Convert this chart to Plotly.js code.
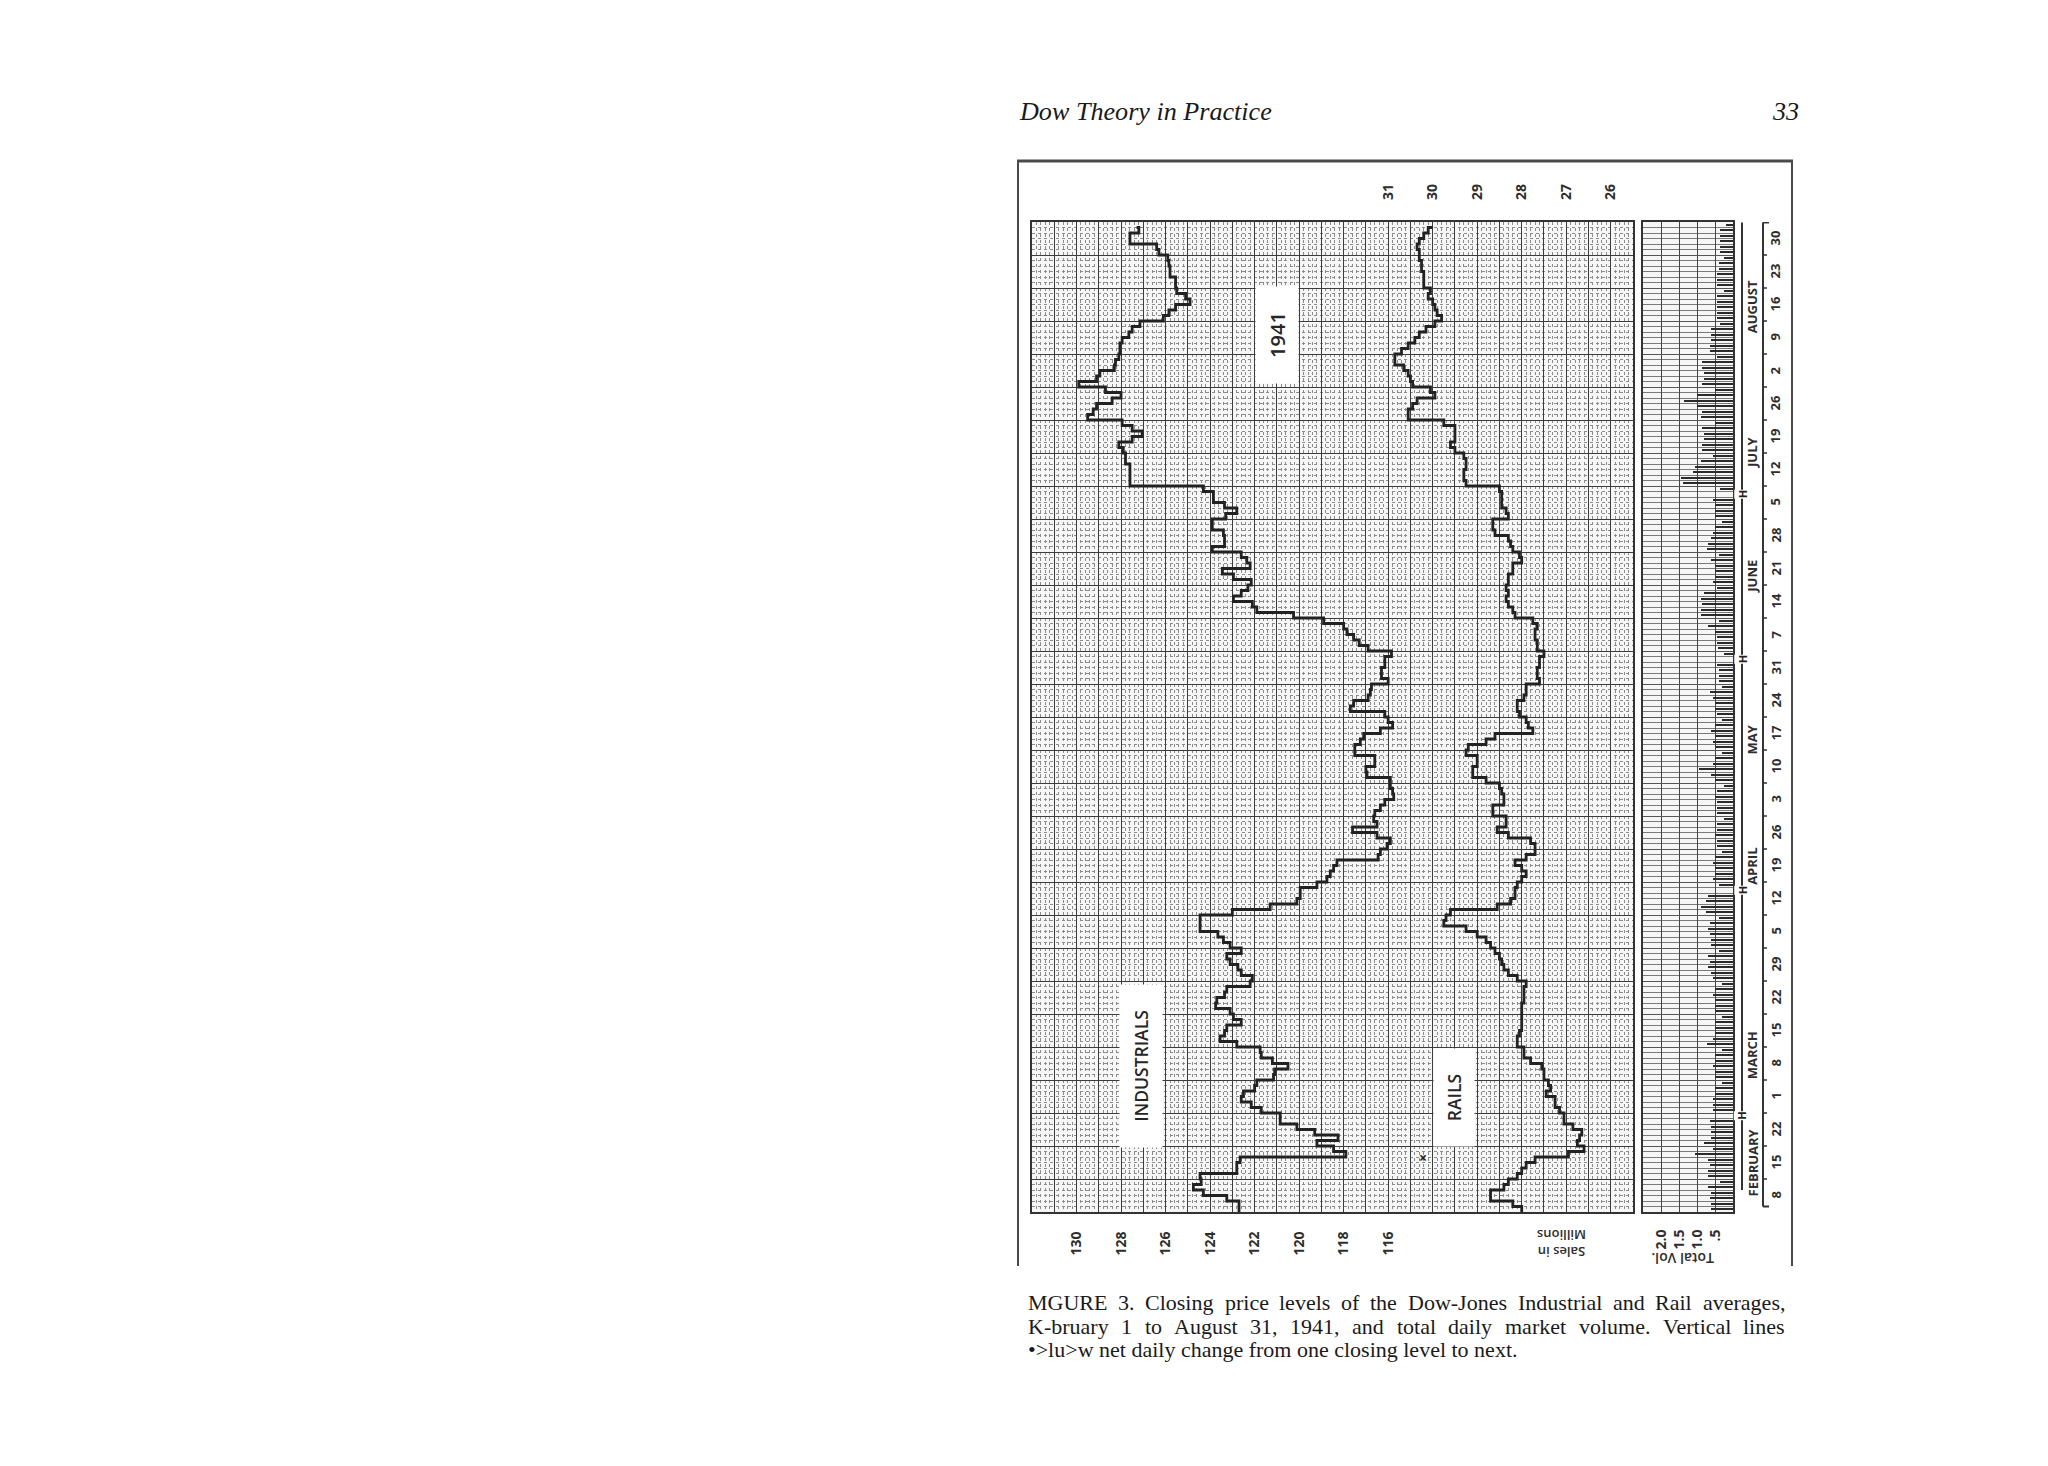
<!DOCTYPE html>
<html><head><meta charset="utf-8">
<script src="https://cdn.plot.ly/plotly-3.0.1.min.js"></script>
<style>html,body{margin:0;padding:0;background:#fff;}#chart{width:2048px;height:1466px;}</style>
</head><body><div id="chart"></div>
<script>
// ---------------- DATA ----------------
const indDates = ['1941-02-01','1941-02-05','1941-02-06','1941-02-07','1941-02-08','1941-02-10','1941-02-11','1941-02-13','1941-02-14','1941-02-15','1941-02-17','1941-02-18','1941-02-19','1941-02-20','1941-02-21','1941-02-24','1941-02-25','1941-02-26','1941-02-27','1941-02-28','1941-03-01','1941-03-03','1941-03-04','1941-03-05','1941-03-06','1941-03-07','1941-03-08','1941-03-10','1941-03-11','1941-03-12','1941-03-13','1941-03-14','1941-03-15','1941-03-17','1941-03-18','1941-03-19','1941-03-20','1941-03-21','1941-03-22','1941-03-24','1941-03-25','1941-03-26','1941-03-27','1941-03-28','1941-03-29','1941-03-31','1941-04-01','1941-04-02','1941-04-03','1941-04-07','1941-04-08','1941-04-09','1941-04-10','1941-04-12','1941-04-14','1941-04-15','1941-04-16','1941-04-17','1941-04-18','1941-04-19','1941-04-21','1941-04-22','1941-04-23','1941-04-24','1941-04-25','1941-04-26','1941-04-28','1941-04-29','1941-04-30','1941-05-01','1941-05-02','1941-05-03','1941-05-06','1941-05-07','1941-05-08','1941-05-10','1941-05-13','1941-05-14','1941-05-15','1941-05-16','1941-05-17','1941-05-19','1941-05-20','1941-05-21','1941-05-22','1941-05-23','1941-05-24','1941-05-26','1941-05-27','1941-05-29','1941-05-31','1941-06-02','1941-06-03','1941-06-04','1941-06-05','1941-06-06','1941-06-07','1941-06-09','1941-06-10','1941-06-11','1941-06-12','1941-06-13','1941-06-14','1941-06-16','1941-06-17','1941-06-18','1941-06-19','1941-06-20','1941-06-21','1941-06-23','1941-06-24','1941-06-26','1941-06-27','1941-06-30','1941-07-01','1941-07-02','1941-07-03','1941-07-05','1941-07-07','1941-07-11','1941-07-14','1941-07-15','1941-07-16','1941-07-17','1941-07-18','1941-07-19','1941-07-21','1941-07-22','1941-07-23','1941-07-24','1941-07-25','1941-07-26','1941-07-28','1941-07-29','1941-07-30','1941-07-31','1941-08-01','1941-08-02','1941-08-04','1941-08-06','1941-08-07','1941-08-08','1941-08-09','1941-08-11','1941-08-12','1941-08-13','1941-08-14','1941-08-15','1941-08-16','1941-08-18','1941-08-20','1941-08-22','1941-08-23','1941-08-25','1941-08-26','1941-08-27','1941-08-29','1941-08-30'];
const indValues = [122.7,123.25,124.3,124.75,124.4,124.45,122.8,122.65,117.9,118.45,119.2,118.25,119.3,120.1,120.85,121.7,122.15,122.6,122.5,122.0,121.9,121.15,121.1,120.5,121.2,121.7,121.75,122.8,123.55,123.35,123.25,122.6,122.95,123.1,123.75,123.7,123.35,123.25,122.2,122.1,122.6,122.75,123.1,123.25,122.6,123.1,123.4,123.65,124.45,123.0,121.3,120.1,119.95,119.2,118.75,118.6,118.45,118.3,116.45,116.35,116.05,115.9,116.5,117.6,116.5,116.65,116.6,116.35,116.15,115.75,115.8,115.9,116.95,117.0,116.6,117.5,117.25,117.1,116.35,115.8,116.0,116.15,117.7,117.55,116.9,116.8,116.75,116.0,116.3,116.15,115.85,116.9,117.3,117.55,117.85,118.0,118.9,120.25,121.9,122.1,122.95,122.6,122.3,122.15,122.95,123.45,122.2,122.35,122.6,123.9,123.35,123.4,123.9,123.3,122.8,123.35,123.85,124.3,127.6,127.8,127.9,128.1,127.5,127.05,127.5,127.95,129.5,129.25,129.1,128.4,128.0,128.7,129.9,129.1,128.95,128.3,128.25,128.1,128.05,127.95,127.65,127.5,127.15,126.1,125.85,125.55,124.9,125.1,125.5,125.55,125.8,125.85,125.9,126.3,126.4,127.6,127.2,127.3];

const railDates = ['1941-02-01','1941-02-04','1941-02-05','1941-02-07','1941-02-08','1941-02-10','1941-02-11','1941-02-12','1941-02-13','1941-02-14','1941-02-15','1941-02-17','1941-02-18','1941-02-19','1941-02-20','1941-02-21','1941-02-24','1941-02-25','1941-02-27','1941-02-28','1941-03-01','1941-03-03','1941-03-05','1941-03-06','1941-03-07','1941-03-10','1941-03-12','1941-03-13','1941-03-19','1941-03-22','1941-03-24','1941-03-25','1941-03-26','1941-03-27','1941-03-28','1941-03-29','1941-03-31','1941-04-01','1941-04-02','1941-04-03','1941-04-04','1941-04-05','1941-04-07','1941-04-08','1941-04-09','1941-04-10','1941-04-12','1941-04-14','1941-04-15','1941-04-16','1941-04-17','1941-04-18','1941-04-19','1941-04-22','1941-04-23','1941-04-24','1941-04-25','1941-04-28','1941-04-30','1941-05-02','1941-05-03','1941-05-05','1941-05-06','1941-05-08','1941-05-10','1941-05-12','1941-05-13','1941-05-14','1941-05-15','1941-05-16','1941-05-17','1941-05-19','1941-05-20','1941-05-22','1941-05-23','1941-05-26','1941-05-27','1941-05-29','1941-05-31','1941-06-02','1941-06-04','1941-06-06','1941-06-07','1941-06-09','1941-06-10','1941-06-11','1941-06-12','1941-06-13','1941-06-14','1941-06-16','1941-06-18','1941-06-20','1941-06-21','1941-06-23','1941-06-24','1941-06-25','1941-06-26','1941-06-27','1941-06-30','1941-07-01','1941-07-02','1941-07-05','1941-07-07','1941-07-08','1941-07-10','1941-07-12','1941-07-14','1941-07-15','1941-07-16','1941-07-19','1941-07-21','1941-07-23','1941-07-24','1941-07-25','1941-07-26','1941-07-28','1941-07-29','1941-07-30','1941-07-31','1941-08-01','1941-08-04','1941-08-05','1941-08-06','1941-08-07','1941-08-08','1941-08-09','1941-08-11','1941-08-12','1941-08-13','1941-08-14','1941-08-15','1941-08-16','1941-08-18','1941-08-21','1941-08-23','1941-08-26','1941-08-27','1941-08-28','1941-08-29','1941-08-30'];
const railValues = [28.0,28.2,28.7,28.4,28.3,28.1,28.0,27.9,27.7,26.95,26.6,26.75,26.7,26.65,26.85,27.05,27.15,27.25,27.45,27.35,27.4,27.5,27.55,27.8,27.95,28.1,28.05,28.0,27.95,27.9,28.1,28.3,28.4,28.45,28.5,28.6,28.7,28.8,29.0,29.25,29.75,29.7,29.6,28.55,28.25,28.15,28.1,28.0,27.9,28.0,28.15,27.9,27.7,27.8,28.3,28.55,28.35,28.65,28.4,28.45,28.5,28.8,29.1,29.0,29.25,29.2,28.8,28.6,27.75,27.85,27.9,28.05,28.1,27.95,27.9,27.6,27.65,27.6,27.5,27.65,27.7,27.65,27.75,28.15,28.2,28.3,28.35,28.3,28.35,28.3,28.2,28.0,28.05,28.2,28.25,28.3,28.6,28.65,28.3,28.35,28.45,28.5,29.25,29.3,29.25,29.3,29.5,29.6,29.5,29.75,30.55,30.45,30.35,29.95,30.05,30.45,30.5,30.55,30.65,30.85,30.7,30.55,30.4,30.3,30.15,29.95,29.8,29.9,29.95,30.0,30.1,30.05,30.2,30.25,30.3,30.35,30.3,30.2,30.1,30.0];

const volDates = ['1941-02-01',
'1941-02-03','1941-02-04','1941-02-05','1941-02-06','1941-02-07','1941-02-08',
'1941-02-10','1941-02-11','1941-02-12','1941-02-13','1941-02-14','1941-02-15',
'1941-02-17','1941-02-18','1941-02-19','1941-02-20','1941-02-21',
'1941-02-24','1941-02-25','1941-02-26','1941-02-27','1941-02-28','1941-03-01',
'1941-03-03','1941-03-04','1941-03-05','1941-03-06','1941-03-07','1941-03-08',
'1941-03-10','1941-03-11','1941-03-12','1941-03-13','1941-03-14','1941-03-15',
'1941-03-17','1941-03-18','1941-03-19','1941-03-20','1941-03-21','1941-03-22',
'1941-03-24','1941-03-25','1941-03-26','1941-03-27','1941-03-28','1941-03-29',
'1941-03-31','1941-04-01','1941-04-02','1941-04-03','1941-04-04','1941-04-05',
'1941-04-07','1941-04-08','1941-04-09','1941-04-10','1941-04-12',
'1941-04-14','1941-04-15','1941-04-16','1941-04-17','1941-04-18','1941-04-19',
'1941-04-21','1941-04-22','1941-04-23','1941-04-24','1941-04-25','1941-04-26',
'1941-04-28','1941-04-29','1941-04-30','1941-05-01','1941-05-02','1941-05-03',
'1941-05-05','1941-05-06','1941-05-07','1941-05-08','1941-05-09','1941-05-10',
'1941-05-12','1941-05-13','1941-05-14','1941-05-15','1941-05-16','1941-05-17',
'1941-05-19','1941-05-20','1941-05-21','1941-05-22','1941-05-23','1941-05-24',
'1941-05-26','1941-05-27','1941-05-28','1941-05-29','1941-05-31',
'1941-06-02','1941-06-03','1941-06-04','1941-06-05','1941-06-06','1941-06-07',
'1941-06-09','1941-06-10','1941-06-11','1941-06-12','1941-06-13','1941-06-14',
'1941-06-16','1941-06-17','1941-06-18','1941-06-19','1941-06-20','1941-06-21',
'1941-06-23','1941-06-24','1941-06-25','1941-06-26','1941-06-27','1941-06-28',
'1941-06-30','1941-07-01','1941-07-02','1941-07-03','1941-07-05',
'1941-07-07','1941-07-08','1941-07-09','1941-07-10','1941-07-11','1941-07-12',
'1941-07-14','1941-07-15','1941-07-16','1941-07-17','1941-07-18','1941-07-19',
'1941-07-21','1941-07-22','1941-07-23','1941-07-24','1941-07-25','1941-07-26',
'1941-07-28','1941-07-29','1941-07-30','1941-07-31','1941-08-01','1941-08-02',
'1941-08-04','1941-08-05','1941-08-06','1941-08-07','1941-08-08','1941-08-09',
'1941-08-11','1941-08-12','1941-08-13','1941-08-14','1941-08-15','1941-08-16',
'1941-08-18','1941-08-19','1941-08-20','1941-08-21','1941-08-22','1941-08-23',
'1941-08-25','1941-08-26','1941-08-27','1941-08-28','1941-08-29','1941-08-30'];
const volValues = [0.4,
0.6,0.6,0.65,0.6,0.7,0.35,
0.7,0.7,0.65,0.7,1.05,0.55,
0.8,0.6,0.6,0.6,0.65,
0.55,0.55,0.55,0.5,0.5,0.3,
0.5,0.5,0.55,0.5,0.5,0.3,
0.73,0.55,0.5,0.5,0.5,0.3,
0.5,0.5,0.5,0.55,0.5,0.3,
0.55,0.6,0.7,0.65,0.7,0.4,
0.6,0.6,0.65,0.7,0.65,0.4,
0.75,0.9,0.75,0.7,0.4,
0.55,0.5,0.5,0.55,0.5,0.3,
0.45,0.45,0.5,0.45,0.45,0.25,
0.45,0.45,0.45,0.5,0.45,0.25,
0.5,0.6,0.95,0.55,0.5,0.3,
0.5,0.55,0.5,0.6,0.5,0.3,
0.45,0.5,0.5,0.55,0.65,0.3,
0.4,0.4,0.4,0.45,0.25,
0.42,0.45,0.45,0.5,0.7,0.4,
0.9,0.9,0.85,0.9,0.8,0.45,
0.55,0.5,0.5,0.5,0.6,0.4,
0.73,0.7,0.6,0.55,0.5,0.3,
0.5,0.5,0.5,0.55,0.35,
1.4,1.45,1.1,1.05,0.9,0.55,
0.85,0.85,0.8,0.8,0.85,0.5,
0.9,0.85,1.0,1.36,1.0,0.5,
0.85,0.8,0.8,0.85,0.85,0.45,
0.65,0.65,0.6,0.6,0.6,0.35,
0.45,0.45,0.45,0.45,0.45,0.25,
0.45,0.45,0.45,0.4,0.4,0.25,
0.35,0.35,0.35,0.35,0.35,0.2];

const indTickVals = [130,128,126,124,122,120,118,116];
const railTickVals = [31,30,29,28,27,26];
const volTickVals = [2.0,1.5,1.0,0.5];
const volTickText = ['2.0','1.5','1.0','.5'];
const dayLabels = ['8','15','22','1','8','15','22','29','5','12','19','26','3','10','17','24','31','7','14','21','28','5','12','19','26','2','9','16','23','30'];
const dayLabelDates = ['1941-02-08','1941-02-15','1941-02-22','1941-03-01','1941-03-08','1941-03-15','1941-03-22','1941-03-29','1941-04-05','1941-04-12','1941-04-19','1941-04-26','1941-05-03','1941-05-10','1941-05-17','1941-05-24','1941-05-31','1941-06-07','1941-06-14','1941-06-21','1941-06-28','1941-07-05','1941-07-12','1941-07-19','1941-07-26','1941-08-02','1941-08-09','1941-08-16','1941-08-23','1941-08-30'];
const monthLabels = ['FEBRUARY','MARCH','APRIL','MAY','JUNE','JULY','AUGUST'];
const monthLabelDates = ['1941-02-13','1941-03-07 12:00','1941-04-16 18:00','1941-05-13 22:00','1941-06-17 12:00','1941-07-14','1941-08-13 12:00'];
const holidayDates = ['1941-02-22','1941-04-11','1941-05-30','1941-07-04'];
const headerLeft = 'Dow Theory in Practice';
const headerRight = '33';
const captionLines = [
 'MGURE 3. Closing price levels of the Dow-Jones Industrial and Rail averages,',
 'K-bruary 1 to August 31, 1941, and total daily market volume. Vertical lines',
 '•>lu>w net daily change from one closing level to next.'
];

// ---------------- LAYOUT HELPERS ----------------
const W = 2048, H = 1466;
const px = x => x / W, py = y => 1 - y / H;
function shiftDate(s, days) {
  const iso = s.length === 10 ? s + 'T00:00:00Z' : s.replace(' ', 'T') + ':00Z';
  const d = new Date(Date.parse(iso) + days * 86400000);
  return d.toISOString().slice(0, 16).replace('T', ' ');
}
const INK = '#222222';
const sans = 'Open Sans, Liberation Sans, sans-serif';
const serif = 'Liberation Serif, Times New Roman, serif';
const priceDom = [px(1032), px(1633)];
const volDom = [px(1643), px(1733)];
const yDom = [py(1212), py(222)];          // 30 weeks x 33 px
const yRange = ['1941-02-03', '1941-08-30 23:59'];
const breaks = [{pattern: 'day of week', bounds: [0, 1]}];

// grid positions along the time axis: week starts (Mondays) and every trading slot
const weekStarts = ['1941-02-03'].concat(dayLabelDates.map(d => shiftDate(d, 2).slice(0, 10)));
const daySlots = [];
weekStarts.slice(0, 30).forEach(m => { for (let k = 1; k < 6; k++) daySlots.push(shiftDate(m, k).slice(0, 10)); });

const indAllTicks = [], indAllText = [];
for (let v = 105; v <= 132; v++) { indAllTicks.push(v); indAllText.push(indTickVals.includes(v) ? String(v) : ''); }

const traces = [
  {type: 'scatter', mode: 'lines', x: indValues, y: indDates, xaxis: 'x', yaxis: 'y',
   line: {shape: 'vh', color: INK, width: 2.8}, hoverinfo: 'skip'},
  {type: 'scatter', mode: 'lines', x: railValues, y: railDates, xaxis: 'x2', yaxis: 'y',
   line: {shape: 'vh', color: INK, width: 2.8}, hoverinfo: 'skip'},
  {type: 'bar', orientation: 'h', x: volValues, y: volDates.map(d => shiftDate(d, 0.5)),
   xaxis: 'x3', yaxis: 'y3', width: 0.38 * 86400000, marker: {color: '#2a2a2a', line: {width: 0}}, hoverinfo: 'skip'}
];

const tickFont = {family: sans, size: 14, color: '#2e2e2e', weight: 700};
const layout = {
  width: W, height: H, margin: {l: 0, r: 0, t: 0, b: 0},
  paper_bgcolor: '#ffffff', plot_bgcolor: '#f6f6f6', showlegend: false, bargap: 0,
  xaxis: {domain: priceDom, anchor: 'y', range: [132, 105], tickmode: 'array', tickvals: indAllTicks, ticktext: indAllText,
    tickangle: -90, tickfont: tickFont, ticks: '', ticklabelstandoff: 12,
    showgrid: true, gridcolor: '#3c3c3c', gridwidth: 1, zeroline: false,
    minor: {dtick: 0.2, tick0: 0, showgrid: true, gridcolor: '#8c8c8c', griddash: 'dot', gridwidth: 1},
    showline: true, mirror: true, linecolor: '#333', linewidth: 2},
  xaxis2: {overlaying: 'x', anchor: 'y', side: 'top', range: [39, 25.5], tickmode: 'array',
    tickvals: railTickVals, ticktext: railTickVals.map(String), tickangle: -90, tickfont: tickFont,
    ticks: '', ticklabelstandoff: 21, showgrid: false, zeroline: false, showline: false},
  yaxis: {domain: yDom, anchor: 'x', type: 'date', range: yRange, rangebreaks: breaks,
    showticklabels: false, ticks: '', tickmode: 'array', tickvals: weekStarts,
    showgrid: true, gridcolor: '#3c3c3c', gridwidth: 1, zeroline: false,
    minor: {tickmode: 'array', tickvals: daySlots, showgrid: true, gridcolor: '#8c8c8c', griddash: 'dot', gridwidth: 1},
    showline: true, mirror: true, linecolor: '#333', linewidth: 2},
  xaxis3: {domain: volDom, anchor: 'y3', range: [2.5, 0], tickmode: 'array', tickvals: volTickVals, ticktext: volTickText,
    tickangle: -90, tickfont: tickFont, ticks: '', ticklabelstandoff: 10,
    showgrid: true, gridcolor: '#444', gridwidth: 1, zeroline: false,
    showline: true, mirror: true, linecolor: '#333', linewidth: 2},
  yaxis3: {domain: yDom, anchor: 'x3', type: 'date', matches: 'y', rangebreaks: breaks,
    showticklabels: false, ticks: '', tickmode: 'array', tickvals: weekStarts,
    showgrid: true, gridcolor: '#555', gridwidth: 1, zeroline: false,
    minor: {tickmode: 'array', tickvals: daySlots, showgrid: true, gridcolor: '#7a7a7a', gridwidth: 1},
    showline: true, mirror: true, linecolor: '#333', linewidth: 2},
  shapes: [], annotations: []
};

function note(o) { layout.annotations.push(Object.assign({showarrow: false, xanchor: 'center', yanchor: 'middle'}, o)); }

// Frame of the figure
const frame = {type: 'line', xref: 'paper', yref: 'paper', line: {color: '#4a4a4a', width: 3}};
layout.shapes.push(Object.assign({}, frame, {x0: px(1017), x1: px(1793), y0: py(161), y1: py(161)}));
layout.shapes.push(Object.assign({}, frame, {x0: px(1018), x1: px(1018), y0: py(161), y1: py(1266), line: {color: '#4a4a4a', width: 2}}));
layout.shapes.push(Object.assign({}, frame, {x0: px(1792), x1: px(1792), y0: py(161), y1: py(1266), line: {color: '#4a4a4a', width: 2}}));

// Date axis decorations: holiday line and bracket line with weekly ticks
const dline = {type: 'line', xref: 'paper', yref: 'y', line: {color: '#333', width: 2}};
layout.shapes.push(Object.assign({}, dline, {x0: px(1742), x1: px(1742), y0: '1941-02-07', y1: '1941-08-30 22:00'}));
layout.shapes.push(Object.assign({}, dline, {x0: px(1763), x1: px(1763), y0: '1941-02-04', y1: '1941-08-30 22:00'}));
layout.shapes.push(Object.assign({}, dline, {x0: px(1763), x1: px(1769), y0: '1941-02-04', y1: '1941-02-04'}));
layout.shapes.push(Object.assign({}, dline, {x0: px(1763), x1: px(1769), y0: '1941-08-30 22:00', y1: '1941-08-30 22:00'}));
weekStarts.slice(1, 30).forEach(t => {
  layout.shapes.push(Object.assign({}, dline, {x0: px(1763), x1: px(1767), y0: t, y1: t, line: {color: '#333', width: 1.5}}));
});

// Day and month labels
const axFont = {family: sans, size: 13, color: '#2e2e2e', weight: 700};
dayLabels.forEach((lab, i) => note({x: px(1775), xref: 'paper', y: shiftDate(dayLabelDates[i], -2), yref: 'y',
  text: lab, textangle: -90, font: axFont}));
monthLabels.forEach((lab, i) => note({x: px(1752), xref: 'paper', y: monthLabelDates[i], yref: 'y',
  text: lab, textangle: -90, font: axFont}));
holidayDates.forEach(d => note({x: px(1742), xref: 'paper', y: shiftDate(d, 0.5), yref: 'y', text: 'H', textangle: -90,
  bgcolor: '#ffffff', borderpad: 0, font: {family: sans, size: 11, color: '#222', weight: 700}}));

// Label boxes inside the grid
function box(text, cx, cy, w, h, size) {
  note({x: px(cx), y: py(cy), xref: 'paper', yref: 'paper', text: text, textangle: -90,
    bgcolor: '#ffffff', width: w, height: h, borderpad: 0,
    font: {family: sans, size: size, color: '#262626', weight: 600}});
}
box('INDUSTRIALS', 1141, 1066, 162, 42, 17.5);
box('RAILS', 1454, 1098, 97, 40, 17.5);
box('1941', 1277, 335, 96, 42, 20);
note({x: px(1423), y: py(1157), xref: 'paper', yref: 'paper', text: '×', font: {family: sans, size: 14, color: '#222', weight: 700}});

// Axis captions (upside down)
note({x: px(1562), y: py(1244), xref: 'paper', yref: 'paper', text: 'Sales in<br>Millions',
  textangle: 180, font: {family: sans, size: 13, color: '#2e2e2e', weight: 600}});
note({x: px(1683), y: py(1259), xref: 'paper', yref: 'paper', text: 'Total Vol.',
  textangle: 180, font: {family: sans, size: 14, color: '#2e2e2e', weight: 600}});

// Page header
const ctx = document.createElement('canvas').getContext('2d');
ctx.font = 'italic 27px "Liberation Serif"';
const hdrSize = 27 * 252 / ctx.measureText(headerLeft).width;
note({x: px(1017), y: py(111), xref: 'paper', yref: 'paper', xanchor: 'left', text: headerLeft,
  font: {family: serif, size: hdrSize, style: 'italic', color: '#1a1a1a'}});
note({x: px(1801), y: py(111), xref: 'paper', yref: 'paper', xanchor: 'right', text: headerRight,
  font: {family: serif, size: hdrSize, style: 'italic', color: '#1a1a1a'}});

// Caption (first two lines justified)
const capSize = 22, capLeft = 1027, capRight = 1784, capY = [1302, 1326, 1349];
ctx.font = capSize + 'px "Liberation Serif"';
captionLines.forEach((line, li) => {
  if (li < 2) {
    const words = line.split(' ');
    const widths = words.map(w => ctx.measureText(w).width);
    const gap = (capRight - capLeft - widths.reduce((a, b) => a + b, 0)) / (words.length - 1);
    let x = capLeft;
    words.forEach((w, i) => {
      note({x: px(x), y: py(capY[li]), xref: 'paper', yref: 'paper', xanchor: 'left', text: w,
        borderpad: 0, font: {family: serif, size: capSize, color: '#1a1a1a'}});
      x += widths[i] + gap;
    });
  } else {
    note({x: px(capLeft), y: py(capY[li]), xref: 'paper', yref: 'paper', xanchor: 'left', text: line,
      borderpad: 0, font: {family: serif, size: capSize, color: '#1a1a1a'}});
  }
});

Plotly.newPlot('chart', traces, layout, {displayModeBar: false, staticPlot: true});
</script>
</body></html>
